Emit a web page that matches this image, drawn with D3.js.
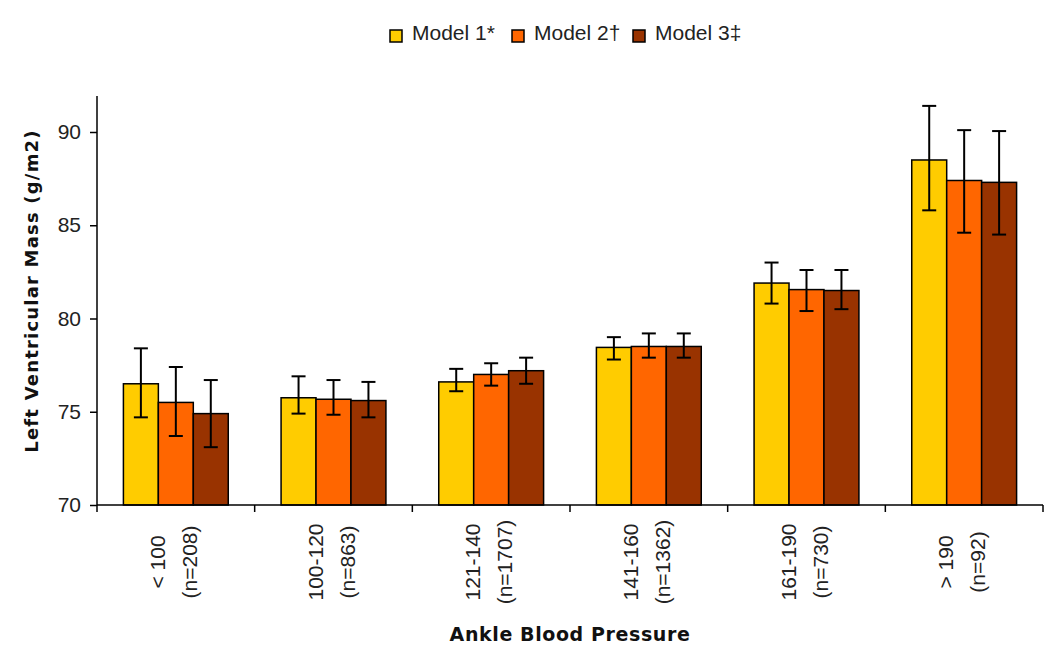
<!DOCTYPE html>
<html><head><meta charset="utf-8">
<script src="https://cdn.jsdelivr.net/npm/d3@7"></script>
<style>body{margin:0;background:#fff}svg{display:block}</style>
</head><body><svg id="c" width="1050" height="670"></svg>
<script>
const categories = ["< 100", "100-120", "121-140", "141-160", "161-190", "> 190"];
const counts = ["(n=208)", "(n=863)", "(n=1707)", "(n=1362)", "(n=730)", "(n=92)"];
const seriesNames = ["Model 1*", "Model 2†", "Model 3‡"];
const model1 = [76.5, 75.75, 76.6, 78.45, 81.9, 88.5];
const model1Lo = [74.7, 74.9, 76.1, 77.8, 80.8, 85.8];
const model1Hi = [78.4, 76.9, 77.3, 79.0, 83.0, 91.4];
const model2 = [75.5, 75.67, 77.0, 78.5, 81.55, 87.4];
const model2Lo = [73.7, 74.84, 76.4, 77.9, 80.4, 84.6];
const model2Hi = [77.4, 76.7, 77.6, 79.2, 82.6, 90.1];
const model3 = [74.9, 75.6, 77.2, 78.5, 81.5, 87.3];
const model3Lo = [73.1, 74.7, 76.5, 77.9, 80.5, 84.5];
const model3Hi = [76.7, 76.6, 77.9, 79.2, 82.6, 90.05];
const yTicks = [70, 75, 80, 85, 90];
const colors = ["#FFCC00", "#FF6600", "#993300"];

const series = [
  {name: seriesNames[0], v: model1, lo: model1Lo, hi: model1Hi},
  {name: seriesNames[1], v: model2, lo: model2Lo, hi: model2Hi},
  {name: seriesNames[2], v: model3, lo: model3Lo, hi: model3Hi}
];

const svg = d3.select("#c");
const L = 97, R = 1043, T = 96, B = 505;
const x = d3.scaleBand().domain(categories).range([L, R]).paddingInner(0.335).paddingOuter(0.1675);
const xs = d3.scaleBand().domain(seriesNames).range([0, x.bandwidth()]);
const y = d3.scaleLinear().domain([70, 90]).range([B, 132]);
const FONT = "Liberation Sans, Arial, sans-serif";
const BFONT = "DejaVu Sans, Verdana, sans-serif";

// bars
series.forEach((s, si) => {
  const g = svg.append("g");
  g.selectAll("rect").data(categories).join("rect")
    .attr("x", c => x(c) + xs(s.name))
    .attr("y", (c, i) => y(s.v[i]))
    .attr("width", xs.bandwidth())
    .attr("height", (c, i) => B - y(s.v[i]))
    .attr("fill", colors[si]).attr("stroke", "#000").attr("stroke-width", 1.5);
  const eb = svg.append("g").attr("stroke", "#000").attr("stroke-width", 2);
  categories.forEach((c, i) => {
    const cx = x(c) + xs(s.name) + xs.bandwidth() / 2;
    eb.append("line").attr("x1", cx).attr("x2", cx).attr("y1", y(s.lo[i])).attr("y2", y(s.hi[i]));
    eb.append("line").attr("x1", cx - 7).attr("x2", cx + 7).attr("y1", y(s.lo[i])).attr("y2", y(s.lo[i]));
    eb.append("line").attr("x1", cx - 7).attr("x2", cx + 7).attr("y1", y(s.hi[i])).attr("y2", y(s.hi[i]));
  });
});

// y axis
const ya = svg.append("g").attr("transform", `translate(${L},0)`)
  .call(d3.axisLeft(y).tickValues(yTicks).tickSize(7).tickPadding(9).tickFormat(d3.format("d")));
ya.select(".domain").attr("d", `M0,${T}V${B}`).attr("stroke", "#000").attr("stroke-width", 1.5);
ya.selectAll(".tick line").attr("stroke-width", 1.5);
ya.selectAll("text").attr("font-family", FONT).attr("font-size", 21).attr("fill", "#222");

// x axis
const bounds = categories.map(c => x(c) - x.step() * x.paddingInner() / 2).concat([R]);
const xa = svg.append("g");
xa.append("line").attr("x1", L).attr("x2", R).attr("y1", B).attr("y2", B).attr("stroke", "#000").attr("stroke-width", 1.5);
xa.selectAll("line.t").data(bounds).join("line").attr("class", "t")
  .attr("x1", d => d).attr("x2", d => d).attr("y1", B).attr("y2", B + 7)
  .attr("stroke", "#000").attr("stroke-width", 1.5);

categories.forEach((c, i) => {
  const cx = x(c) + x.bandwidth() / 2;
  const t = svg.append("text").attr("transform", `translate(${cx},562) rotate(-90)`)
    .attr("font-family", FONT).attr("font-size", 21).attr("fill", "#222").attr("text-anchor", "middle");
  t.append("tspan").attr("x", 0).attr("y", -11).text(c);
  t.append("tspan").attr("x", 0).attr("y", 21).text(counts[i]);
});

// titles
svg.append("text").attr("x", (L + R) / 2).attr("y", 641).attr("text-anchor", "middle")
  .attr("font-family", BFONT).attr("font-weight", "bold").attr("font-size", 19)
  .attr("letter-spacing", 0.6).attr("fill", "#111").text("Ankle Blood Pressure");
svg.append("text").attr("transform", `translate(38,291) rotate(-90)`).attr("text-anchor", "middle")
  .attr("font-family", BFONT).attr("font-weight", "bold").attr("font-size", 18)
  .attr("letter-spacing", 1.2).attr("fill", "#111").text("Left Ventricular Mass (g/m2)");

// legend
const legX = [390, 512, 633];
series.forEach((s, i) => {
  svg.append("rect").attr("x", legX[i]).attr("y", 30).attr("width", 12).attr("height", 12)
    .attr("fill", colors[i]).attr("stroke", "#000").attr("stroke-width", 1.5);
  svg.append("text").attr("x", legX[i] + 22).attr("y", 40).attr("font-family", FONT).attr("font-size", 21)
    .attr("fill", "#222").text(s.name);
});
</script></body></html>
